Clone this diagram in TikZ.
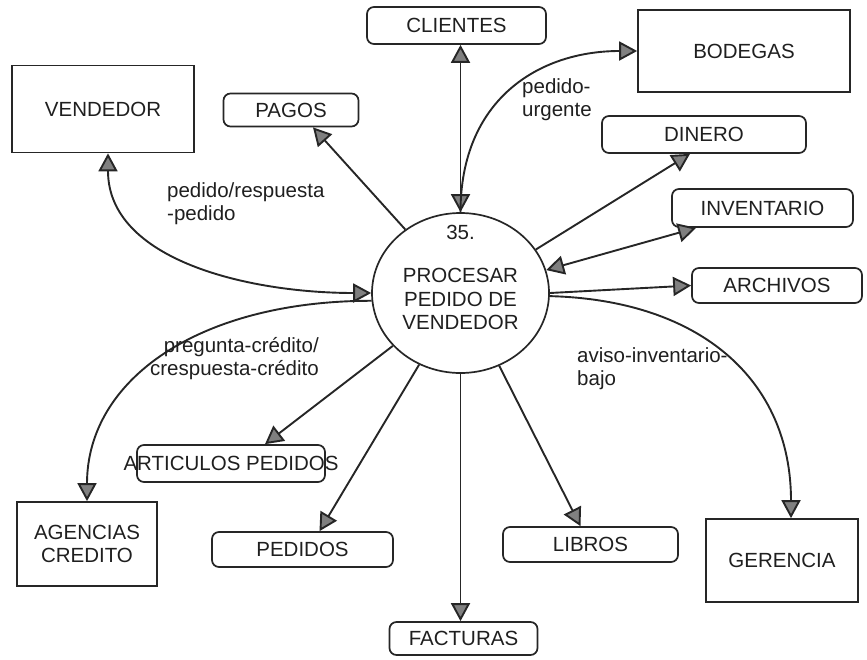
\documentclass[tikz,border=0pt]{standalone}
\usepackage{fontspec}
\setmainfont{Liberation Sans}
\usetikzlibrary{arrows.meta,shapes.geometric,calc}
\begin{document}
\begin{tikzpicture}[x=1pt,y=-1pt,
  every node/.style={font=\fontsize{20.5}{23}\selectfont, text=black!88},
  gtri/.tip={Triangle[length=18pt,width=19pt,fill=black!50]},
  entity/.style={draw=black!85, line width=1.7pt, rectangle, inner sep=0pt},
  store/.style={draw=black!85, line width=1.7pt, rectangle, rounded corners=7pt, inner sep=0pt},
  process/.style={draw=black!85, line width=1.7pt, ellipse, inner sep=0pt,
    minimum width=177pt, minimum height=160pt},
  flow/.style={draw=black!85, line width=1.9pt, -gtri},
  dflow/.style={draw=black!85, line width=1.9pt, gtri-gtri},
  lbl/.style={inner sep=0pt, align=left}
]
\useasboundingbox (0,0) rectangle (867,659);

% central process
\node[process] (c) at (460.5,293) {};
\node[inner sep=0pt] (num) at (460.5,232) {35.};
\node[inner sep=0pt, align=center, font=\fontsize{20.5}{23.5}\selectfont] (ctext) at (460.5,299)
  {PROCESAR\\PEDIDO DE\\VENDEDOR};

% external entities
\node[entity, minimum width=182pt, minimum height=87pt] (vendedor) at (103,109) {VENDEDOR};
\node[entity, minimum width=212pt, minimum height=82pt] (bodegas) at (744,51) {BODEGAS};
\node[entity, minimum width=140pt, minimum height=84pt, align=center] (agencias) at (87,544) {AGENCIAS\\CREDITO};
\node[entity, minimum width=152pt, minimum height=83pt] (gerencia) at (782,560.5) {GERENCIA};

% data stores
\node[store, minimum width=179pt, minimum height=37pt] (clientes) at (456.5,25.5) {CLIENTES};
\node[store, minimum width=135pt, minimum height=33pt] (pagos) at (291,110) {PAGOS};
\node[store, minimum width=204pt, minimum height=37pt] (dinero) at (704,134.5) {DINERO};
\node[store, minimum width=181pt, minimum height=38pt] (inventario) at (762.5,208) {INVENTARIO};
\node[store, minimum width=170pt, minimum height=35pt] (archivos) at (777,285.5) {ARCHIVOS};
\node[store, minimum width=188pt, minimum height=37pt] (articulos) at (231,463.5) {};
\node[inner sep=0pt] (articulostext) at (231,463.5) {ARTICULOS PEDIDOS};
\node[store, minimum width=181pt, minimum height=35pt] (pedidos) at (302.5,549.5) {PEDIDOS};
\node[store, minimum width=175pt, minimum height=35pt] (libros) at (590.5,544.5) {LIBROS};
\node[store, minimum width=148pt, minimum height=33pt] (facturas) at (463.5,638.5) {FACTURAS};

% flows
\draw[dflow] (c.north |- clientes.south) -- (c.north);
\draw[flow] (c.north) .. controls +(0,-113) and +(-98,0) .. (bodegas.west);
\draw[flow] (c.131) -- ([xshift=22pt]pagos.south);
\draw[dflow] ([xshift=5pt]vendedor.south) .. controls +(0,107) and +(-122,0) .. (c.west);
\draw[flow] (c.30) -- ([xshift=-14pt]dinero.south);
\draw[dflow] ([xshift=25pt]inventario.south west) -- (c.15);
\draw[flow] (c.east) -- (archivos.west);
\draw[flow] (c.358) .. controls +(151,4) and +(0,-138) .. ([xshift=9pt]gerencia.north);
\draw[flow] (c.185) .. controls +(-172,0) and +(0,-122) .. (agencias.north);
\draw[flow] (c.218) -- ([xshift=34pt]articulos.north);
\draw[flow] (c.240) -- ([xshift=17pt]pedidos.north);
\draw[flow] (c.south) -- (c.south |- facturas.north);
\draw[flow] (c.298) -- ([xshift=-10pt]libros.north);

% flow labels
\node[lbl, anchor=base west] (lurg) at (522,116) {pedido-\\urgente};
\node[lbl, anchor=base west] (lven) at (167,220) {pedido/respuesta\\-pedido};
\node[lbl, anchor=base east, align=right] (lcred) at (319,375) {pregunta-crédito/\\crespuesta-crédito};
\node[lbl, anchor=base west] (linv) at (577,385) {aviso-inventario-\\bajo};
\end{tikzpicture}
\end{document}
